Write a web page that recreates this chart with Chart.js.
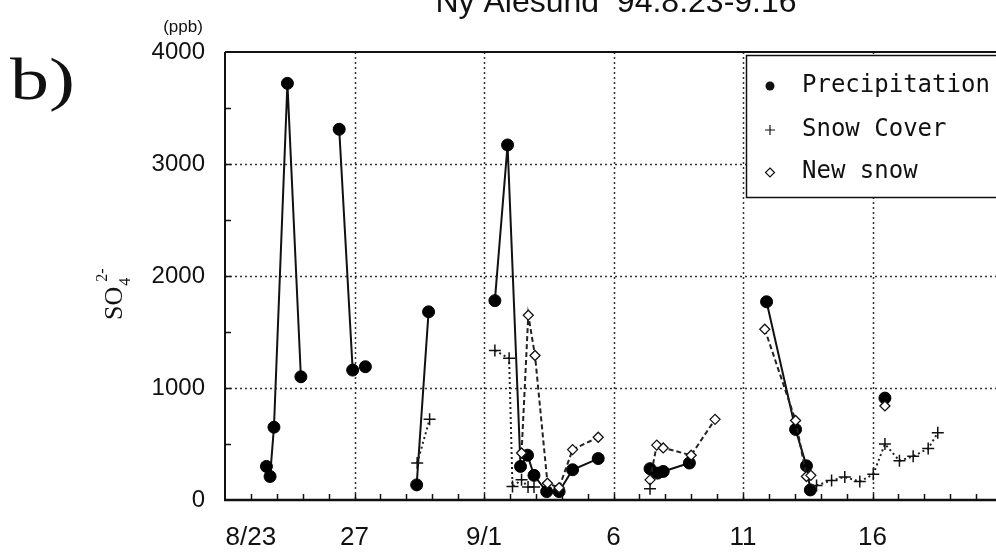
<!DOCTYPE html>
<html>
<head>
<meta charset="utf-8">
<script src="https://cdn.jsdelivr.net/npm/chart.js@4.4.1/dist/chart.umd.min.js"></script>
<style>
  html, body { margin: 0; padding: 0; background: #fff; overflow: hidden; }
  #wrap { position: relative; width: 1010px; height: 552px; }
</style>
</head>
<body>
<div id="wrap"><canvas id="chart" width="1010" height="552"></canvas></div>
<script>
// days counted from Aug 1 (8/22 = 22, 9/1 = 32, 9/16 = 47)
const tickDays = [23, 27, 32, 37, 42, 47];
const tickLabels = ['8/23', '27', '9/1', '6', '11', '16'];
const gridDays = [27, 32, 37, 42, 47];
const yTicks = [0, 1000, 2000, 3000, 4000];

// null = break in the line
const precipDays = [23.6, 23.74, 23.89, 24.41, 24.93, 25.5, 26.41, 26.93, 27.2, 27.42, 28.5, 29.4, 29.86, 31,
  32.42, 32.91, 33.41, 33.68, 33.93, 34.42, 34.9, 35.42, 36.41, 37.5,
  38.41, 38.7, 38.92, 39.93, 41, 42.91, 44.03, 44.45, 44.6, 46, 47.48];
const precipValues = [300, 210, 650, 3720, 1100, null, 3310, 1160, null, 1190, null, 135, 1680, null,
  1780, 3170, 300, 400, 220, 75, 75, 270, 370, null,
  280, 240, 255, 330, null, 1770, 630, 305, 90, null, 910];

const snowDays = [29.42, 29.9, 31, 32.42, 32.97, 33.1, 33.45, 33.7, 33.93, 36, 38.41, 42,
  44.84, 45.42, 45.93, 46.51, 47.03, 47.48, 48.04, 48.57, 49.15, 49.52];
const snowValues = [330, 720, null, 1335, 1265, 120, 180, 115, 115, null, 100, null,
  130, 175, 205, 165, 230, 500, 350, 390, 460, 600];

const newDays = [33.45, 33.71, 33.97, 34.45, 34.9, 35.42, 36.41, 37.5, 38.41, 38.67, 38.92, 40.0, 40.92, 41.5,
  42.84, 44.03, 44.45, 44.62, 46, 47.48];
const newValues = [420, 1650, 1290, 150, 110, 450, 560, null, 180, 490, 465, 400, 720, null,
  1525, 710, 210, 220, null, 840];

function pts(days, vals) {
  return days.map((d, i) => ({ x: d, y: vals[i] }));
}

const frame = {
  id: 'frame',
  beforeDatasetsDraw(chart) {
    const c = chart.ctx, a = chart.chartArea;
    const xs = chart.scales.x, ys = chart.scales.y;
    c.save();
    // dotted grid
    c.strokeStyle = '#333';
    c.lineWidth = 1.5;
    c.setLineDash([2, 3]);
    [1000, 2000, 3000].forEach(v => {
      const y = Math.round(ys.getPixelForValue(v)) + 0.5;
      c.beginPath(); c.moveTo(a.left, y); c.lineTo(a.right, y); c.stroke();
    });
    gridDays.forEach(d => {
      const x = Math.round(xs.getPixelForValue(d)) + 0.5;
      c.beginPath(); c.moveTo(x, a.top); c.lineTo(x, a.bottom); c.stroke();
    });
    c.setLineDash([]);
    // minor ticks
    c.strokeStyle = '#111';
    c.lineWidth = 1.5;
    for (let d = 23; d <= 52; d++) {
      const x = Math.round(xs.getPixelForValue(d)) + 0.5;
      c.beginPath(); c.moveTo(x, a.bottom); c.lineTo(x, a.bottom - 6); c.stroke();
    }
    for (let v = 500; v < 4000; v += 500) {
      const y = Math.round(ys.getPixelForValue(v)) + 0.5;
      c.beginPath(); c.moveTo(a.left, y); c.lineTo(a.left + 6, y); c.stroke();
    }
    // axes
    c.lineWidth = 2;
    c.beginPath(); c.moveTo(a.left, a.top); c.lineTo(a.right, a.top); c.stroke();
    c.beginPath(); c.moveTo(a.left, a.top); c.lineTo(a.left, a.bottom); c.stroke();
    c.lineWidth = 2.5;
    c.beginPath(); c.moveTo(a.left - 1, a.bottom); c.lineTo(a.right, a.bottom); c.stroke();
    c.restore();
  },
  afterDraw(chart) {
    const c = chart.ctx;
    c.save();
    c.fillStyle = '#111';
    // title, clipped at the top like the scan
    c.font = '32px "Liberation Sans", Arial, sans-serif';
    c.textAlign = 'center';
    c.textBaseline = 'alphabetic';
    c.fillText('Ny Alesund  94.8.23-9.16', 616, 12);
    c.font = '17px "Liberation Sans", Arial, sans-serif';
    c.fillText('(ppb)', 183, 32);
    c.textAlign = 'left';
    c.save();
    c.translate(10, 99);
    c.scale(1.3, 1);
    c.font = '60px "Liberation Serif", "Times New Roman", serif';
    c.fillText('b)', 0, 0);
    c.restore();
    // y title SO4 2-
    c.save();
    c.translate(122, 320);
    c.rotate(-Math.PI / 2);
    c.font = '26px "Liberation Serif", serif';
    c.fillText('SO', 0, 0);
    const w = c.measureText('SO').width;
    c.font = '16px "Liberation Serif", serif';
    c.fillText('4', w + 1, 8);
    c.fillText('2-', w + 5, -15);
    c.restore();
    // legend box
    const bx = 746, by = 55, bw = 262, bh = 142;
    c.fillStyle = '#fff';
    c.fillRect(bx, by, bw, bh);
    c.strokeStyle = '#111';
    c.lineWidth = 1.5;
    c.strokeRect(bx + 0.5, by + 0.5, bw, bh);
    c.fillStyle = '#111';
    c.beginPath(); c.arc(770, 86, 4.5, 0, Math.PI * 2); c.fill();
    c.lineWidth = 1.2;
    c.beginPath(); c.moveTo(765, 130); c.lineTo(775, 130); c.moveTo(770, 125); c.lineTo(770, 135); c.stroke();
    c.beginPath(); c.moveTo(770, 168); c.lineTo(774.5, 172.5); c.lineTo(770, 177); c.lineTo(765.5, 172.5); c.closePath(); c.stroke();
    c.font = '24px "DejaVu Sans Mono", monospace';
    c.textBaseline = 'middle';
    c.fillText('Precipitation', 802, 86);
    c.fillText('Snow Cover', 802, 130);
    c.fillText('New snow', 802, 172);
    c.restore();
  }
};

const ctx = document.getElementById('chart');
new Chart(ctx, {
  type: 'line',
  data: {
    datasets: [{
      label: 'Snow Cover',
      data: pts(snowDays, snowValues),
      borderColor: '#222',
      borderWidth: 2,
      borderDash: [2, 3],
      pointStyle: 'cross',
      pointRadius: 6,
      pointBorderWidth: 1.5,
      pointBorderColor: '#111',
      tension: 0
    }, {
      label: 'New snow',
      data: pts(newDays, newValues),
      borderColor: '#222',
      borderWidth: 2,
      borderDash: [5, 3],
      pointStyle: 'rectRot',
      pointRadius: 5,
      pointBackgroundColor: '#fff',
      pointBorderColor: '#111',
      pointBorderWidth: 1.3,
      tension: 0
    }, {
      label: 'Precipitation',
      data: pts(precipDays, precipValues),
      borderColor: '#111',
      borderWidth: 2,
      pointStyle: 'circle',
      pointRadius: 6,
      pointBackgroundColor: '#000',
      pointBorderColor: '#000',
      pointBorderWidth: 1,
      tension: 0
    }]
  },
  options: {
    responsive: false,
    animation: false,
    spanGaps: false,
    layout: { padding: { top: 52, right: 8, left: 0, bottom: 0 } },
    plugins: { legend: { display: false }, tooltip: { enabled: false } },
    scales: {
      x: {
        type: 'linear',
        min: 22,
        max: 52,
        afterBuildTicks: s => { s.ticks = tickDays.map(v => ({ value: v })); },
        afterFit: s => { s.height = 52; },
        grid: { display: false },
        border: { display: false },
        ticks: {
          autoSkip: false,
          maxRotation: 0,
          padding: 14,
          color: '#111',
          font: { family: '"Liberation Sans", Arial, sans-serif', size: 26 },
          callback: v => tickLabels[tickDays.indexOf(v)]
        }
      },
      y: {
        min: 0,
        max: 4000,
        afterBuildTicks: s => { s.ticks = yTicks.map(v => ({ value: v })); },
        afterFit: s => { s.width = 225; },
        grid: { display: false },
        border: { display: false },
        ticks: {
          padding: 12,
          color: '#111',
          font: { family: '"Liberation Sans", Arial, sans-serif', size: 24 },
          callback: v => String(v)
        }
      }
    }
  },
  plugins: [frame]
});
</script>
</body>
</html>
